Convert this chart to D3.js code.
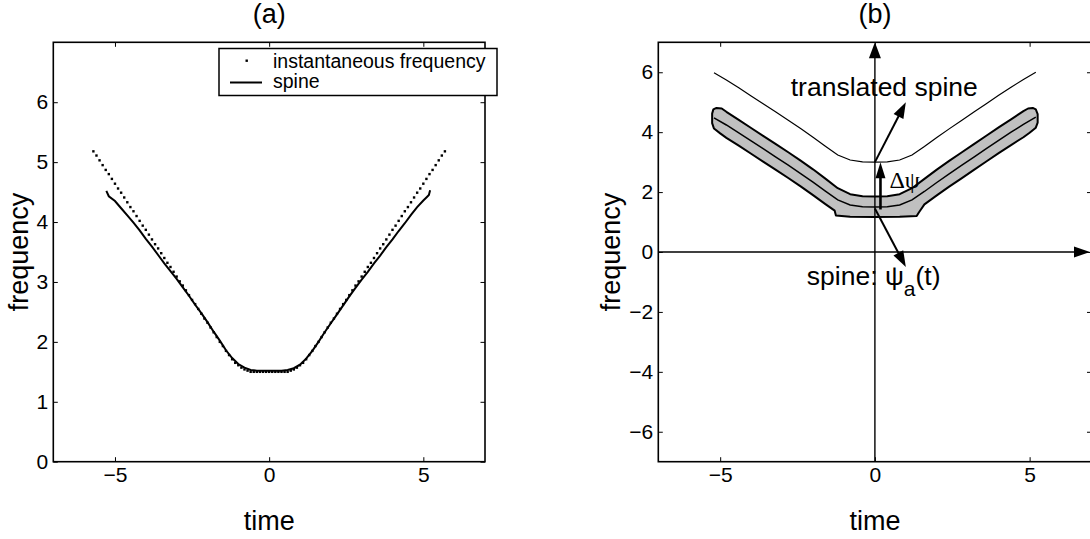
<!DOCTYPE html>
<html>
<head>
<meta charset="utf-8">
<script src="https://cdn.jsdelivr.net/npm/d3@7"></script>
<style>
  body { margin: 0; background: #fff; }
  text { font-family: "Liberation Sans", Arial, Helvetica, sans-serif; fill: #000; }
</style>
</head>
<body>
<svg id="chart" width="1090" height="539"></svg>
<script>
// ---- data ----

// (a) instantaneous frequency, sampled every 0.1 from t = -5.7 to 5.7
const instStart = -5.7, instStep = 0.1;
const instFreq = [
  5.18, 5.11, 5.03, 4.95, 4.87, 4.80, 4.72, 4.64, 4.56, 4.49,
  4.41, 4.33, 4.25, 4.18, 4.10, 4.02, 3.94, 3.87, 3.79, 3.71,
  3.63, 3.56, 3.48, 3.40, 3.32, 3.25, 3.17, 3.09, 3.01, 2.94,
  2.86, 2.78, 2.70, 2.63, 2.55, 2.47, 2.39, 2.32, 2.24, 2.16,
  2.08, 2.00, 1.93, 1.85, 1.78, 1.71, 1.65, 1.61, 1.57, 1.54,
  1.52, 1.50, 1.50, 1.50, 1.50, 1.50, 1.50, 1.50,
  1.50, 1.50, 1.50, 1.50, 1.50, 1.50, 1.52,
  1.54, 1.57, 1.61, 1.65, 1.71, 1.78, 1.85, 1.93, 2.00, 2.08,
  2.16, 2.24, 2.32, 2.39, 2.47, 2.55, 2.63, 2.70, 2.78, 2.86,
  2.94, 3.01, 3.09, 3.17, 3.25, 3.32, 3.40, 3.48, 3.56, 3.63,
  3.71, 3.79, 3.87, 3.94, 4.02, 4.10, 4.18, 4.25, 4.33, 4.41,
  4.49, 4.56, 4.64, 4.72, 4.80, 4.87, 4.95, 5.03, 5.11, 5.18
];

// (a) spine
const spineAT = [-5.28, -5.2, -5.0, -4.8, -4.6, -4.4, -4.2, -4.0, -3.8, -3.6, -3.4, -3.2, -3.0,
  -2.8, -2.6, -2.4, -2.2, -2.0, -1.8, -1.6, -1.4, -1.2, -1.0, -0.8, -0.6, -0.4, -0.2, 0,
  0.2, 0.4, 0.6, 0.8, 1.0, 1.2, 1.4, 1.6, 1.8, 2.0, 2.2, 2.4, 2.6, 2.8, 3.0, 3.2, 3.4,
  3.6, 3.8, 4.0, 4.2, 4.4, 4.6, 4.8, 5.0, 5.1, 5.18, 5.22];
const spineAF = [4.52, 4.43, 4.35, 4.23, 4.11, 3.99, 3.86, 3.72, 3.59, 3.45, 3.31, 3.18, 3.05,
  2.91, 2.77, 2.62, 2.48, 2.33, 2.17, 2.02, 1.86, 1.73, 1.63, 1.57, 1.53, 1.52, 1.52, 1.52,
  1.52, 1.52, 1.53, 1.56, 1.62, 1.72, 1.85, 2.00, 2.16, 2.31, 2.46, 2.61, 2.76, 2.90, 3.04, 3.17, 3.31,
  3.44, 3.58, 3.71, 3.85, 3.98, 4.12, 4.25, 4.36, 4.41, 4.45, 4.53];

// (b) spine and the shift up to the translated spine
const spineBT = [-5.2, -4.8, -4.4, -4.0, -3.6, -3.2, -2.8, -2.4, -2.0, -1.6, -1.2, -0.8, -0.4, 0,
  0.4, 0.8, 1.2, 1.6, 2.0, 2.4, 2.8, 3.2, 3.6, 4.0, 4.4, 4.8, 5.2];
const spineBF = [4.48, 4.24, 3.98, 3.71, 3.44, 3.17, 2.90, 2.62, 2.33, 2.03, 1.74, 1.57, 1.51, 1.50,
  1.51, 1.57, 1.74, 2.02, 2.32, 2.61, 2.89, 3.17, 3.45, 3.73, 4.00, 4.26, 4.50];
const deltaPsi = 1.5;

// (b) grey band round the spine: upper and lower edges
const bandUpT = [-5.26, -5.22, -5.12, -4.95, -4.8, -4.4, -4.0, -3.6, -3.2, -2.8, -2.4, -2.0, -1.6,
  -1.2, -0.8, -0.4, 0, 0.4, 0.8, 1.2, 1.6, 2.0, 2.4, 2.8, 3.2, 3.6, 4.0, 4.4, 4.8, 4.95, 5.1, 5.2, 5.26];
const bandUpF = [4.62, 4.76, 4.81, 4.79, 4.68, 4.41, 4.14, 3.87, 3.60, 3.33, 3.05, 2.76, 2.45,
  2.13, 1.93, 1.86, 1.85, 1.86, 1.93, 2.13, 2.44, 2.75, 3.04, 3.32, 3.60, 3.88, 4.16, 4.43, 4.70, 4.79, 4.81, 4.76, 4.60];
const bandLoT = [-5.26, -5.2, -5.0, -4.8, -4.4, -4.0, -3.6, -3.2, -2.8, -2.4, -2.0, -1.6, -1.3, -1.26,
  -0.8, 0, 0.8, 1.35, 1.42, 1.6, 2.0, 2.4, 2.8, 3.2, 3.6, 4.0, 4.4, 4.8, 5.0, 5.2, 5.26];
const bandLoF = [4.30, 4.12, 3.96, 3.81, 3.55, 3.28, 3.01, 2.74, 2.47, 2.19, 1.90, 1.60, 1.38, 1.22,
  1.18, 1.17, 1.18, 1.20, 1.32, 1.59, 1.89, 2.18, 2.46, 2.74, 3.02, 3.30, 3.57, 3.83, 3.98, 4.15, 4.32];

// (b) annotation arrows [t, f] from -> to
const arrowFrom = [[0, 3.0], [0, 1.45], [0.18, 1.42]];
const arrowTo   = [[1.0, 5.0], [1.0, -0.5], [0.18, 3.0]];

// ticks
const timeTicks = [-5, 0, 5];
const freqTicksA = [0, 1, 2, 3, 4, 5, 6];
const freqTicksB = [-6, -4, -2, 0, 2, 4, 6];

// ---- drawing ----
const svg = d3.select('#chart');
const font = '"Liberation Sans", Arial, Helvetica, sans-serif';
const fmt = d3.format('d');

const xA = d3.scaleLinear().domain([-7, 7]).range([53.3, 485]);
const yA = d3.scaleLinear().domain([0, 7]).range([461.7, 42.3]);
const xB = d3.scaleLinear().domain([-7, 7]).range([658.3, 1091.5]);
const yB = d3.scaleLinear().domain([-7, 7]).range([461.7, 42.3]);

// axes box with inward ticks on all four sides
function frame(x, y, yTicks, title, labelOffset) {
    let g = svg.append('g');
    let [x0, x1] = x.range();
    let [y0, y1] = y.range();

    let axes = [
        [d3.axisBottom(x).tickValues(timeTicks).tickFormat(fmt), `translate(0,${y0})`],
        [d3.axisTop(x).tickValues(timeTicks).tickFormat(''), `translate(0,${y1})`],
        [d3.axisLeft(y).tickValues(yTicks).tickFormat(fmt), `translate(${x0},0)`],
        [d3.axisRight(y).tickValues(yTicks).tickFormat(''), `translate(${x1},0)`]
    ];
    axes.forEach(([ax, tr]) => {
        let a = g.append('g').attr('transform', tr)
            .call(ax.tickSize(-4.5).tickPadding(5));
        a.attr('font-size', 21).attr('font-family', font);
        a.select('.domain').remove();
        a.selectAll('line').attr('stroke-width', 1);
    });

    g.append('rect')
        .attr('x', x0).attr('y', y1)
        .attr('width', x1 - x0).attr('height', y0 - y1)
        .attr('fill', 'none').attr('stroke', '#000').attr('stroke-width', 1.6);

    let cx = (x0 + x1) / 2, cy = (y0 + y1) / 2;
    svg.append('text').attr('x', cx).attr('y', 23).attr('text-anchor', 'middle')
        .style('font-size', '27px').text(title);
    svg.append('text').attr('x', cx).attr('y', 530).attr('text-anchor', 'middle')
        .style('font-size', '27px').text('time');
    svg.append('text')
        .attr('transform', `translate(${x0 - labelOffset},${cy}) rotate(-90)`)
        .attr('text-anchor', 'middle')
        .style('font-size', '27px').text('frequency');
    return g;
}

// filled arrow head at (x2,y2), shaft from (x1,y1)
function arrow(g, x1, y1, x2, y2, len, wid, width) {
    let dx = x2 - x1, dy = y2 - y1;
    let d = Math.hypot(dx, dy);
    let ux = dx / d, uy = dy / d;
    let bx = x2 - ux * len, by = y2 - uy * len;
    g.append('line')
        .attr('x1', x1).attr('y1', y1).attr('x2', bx + ux).attr('y2', by + uy)
        .attr('stroke', '#000').attr('stroke-width', width);
    g.append('path')
        .attr('d', `M${x2},${y2}L${bx - uy * wid / 2},${by + ux * wid / 2}L${bx + uy * wid / 2},${by - ux * wid / 2}Z`)
        .attr('fill', '#000');
}

// ---------- panel (a) ----------
frame(xA, yA, freqTicksA, '(a)', 25);

let panelA = svg.append('g');

panelA.selectAll('.dot')
    .data(instFreq)
    .enter()
    .append('rect')
    .attr('class', 'dot')
    .attr('x', (d, i) => xA(instStart + i * instStep) - 1.2)
    .attr('y', d => yA(d) - 1.2)
    .attr('width', 2.4).attr('height', 2.4)
    .attr('fill', '#000');

panelA.append('path')
    .datum(spineAT.map((t, i) => [t, spineAF[i]]))
    .attr('d', d3.line().x(d => xA(d[0])).y(d => yA(d[1])))
    .attr('fill', 'none').attr('stroke', '#000').attr('stroke-width', 2);

// legend
let legend = svg.append('g');
legend.append('rect')
    .attr('x', 219).attr('y', 48.5).attr('width', 278).attr('height', 47)
    .attr('fill', '#fff').attr('stroke', '#000').attr('stroke-width', 1.5);
legend.append('rect')
    .attr('x', 245.5).attr('y', 59.5).attr('width', 2.4).attr('height', 2.4).attr('fill', '#000');
legend.append('line')
    .attr('x1', 230).attr('x2', 262).attr('y1', 82.5).attr('y2', 82.5)
    .attr('stroke', '#000').attr('stroke-width', 2);
legend.append('text').attr('x', 273).attr('y', 68).style('font-size', '19.5px')
    .text('instantaneous frequency');
legend.append('text').attr('x', 273).attr('y', 88).style('font-size', '19.5px')
    .text('spine');

// ---------- panel (b) ----------
frame(xB, yB, freqTicksB, '(b)', 38);

let panelB = svg.append('g');
let lineB = d3.line().x(d => xB(d[0])).y(d => yB(d[1]));

let bandPts = bandUpT.map((t, i) => [t, bandUpF[i]])
    .concat(bandLoT.map((t, i) => [t, bandLoF[i]]).reverse());
panelB.append('path')
    .datum(bandPts)
    .attr('d', d => lineB(d) + 'Z')
    .attr('fill', '#c0c0c0').attr('stroke', '#000').attr('stroke-width', 2)
    .attr('stroke-linejoin', 'round');

panelB.append('path')
    .datum(spineBT.map((t, i) => [t, spineBF[i]]))
    .attr('d', lineB)
    .attr('fill', 'none').attr('stroke', '#000').attr('stroke-width', 1.5);

panelB.append('path')
    .datum(spineBT.map((t, i) => [t, spineBF[i] + deltaPsi]))
    .attr('d', lineB)
    .attr('fill', 'none').attr('stroke', '#000').attr('stroke-width', 1.2);

// coordinate axes through the origin
arrow(panelB, xB(0), yB(-7), xB(0), yB(7), 16, 12, 1.4);
arrow(panelB, xB(-7), yB(0), xB(7) - 1.5, yB(0), 16, 11, 1.4);

// annotation arrows
arrowFrom.forEach((p, i) => {
    let q = arrowTo[i];
    let w = i === 2 ? 2.6 : 2;
    let wid = i === 2 ? 10 : 11;
    arrow(panelB, xB(p[0]), yB(p[1]), xB(q[0]), yB(q[1]), 16, wid, w);
});

panelB.append('text')
    .attr('x', xB(-2.72)).attr('y', yB(5.2))
    .style('font-size', '26.5px').text('translated spine');

panelB.append('text')
    .attr('x', xB(0.47)).attr('y', yB(2.12))
    .style('font-family', '"Liberation Serif", "DejaVu Serif", serif')
    .style('font-size', '24px').text('Δψ');

let spineLabel = panelB.append('text')
    .attr('x', xB(-2.2)).attr('y', yB(-1.1))
    .style('font-size', '26.5px');
spineLabel.append('tspan').text('spine: ψ');
spineLabel.append('tspan').attr('dy', 11).style('font-size', '21px').text('a');
spineLabel.append('tspan').attr('dy', -11).text('(t)');
</script>
</body>
</html>
